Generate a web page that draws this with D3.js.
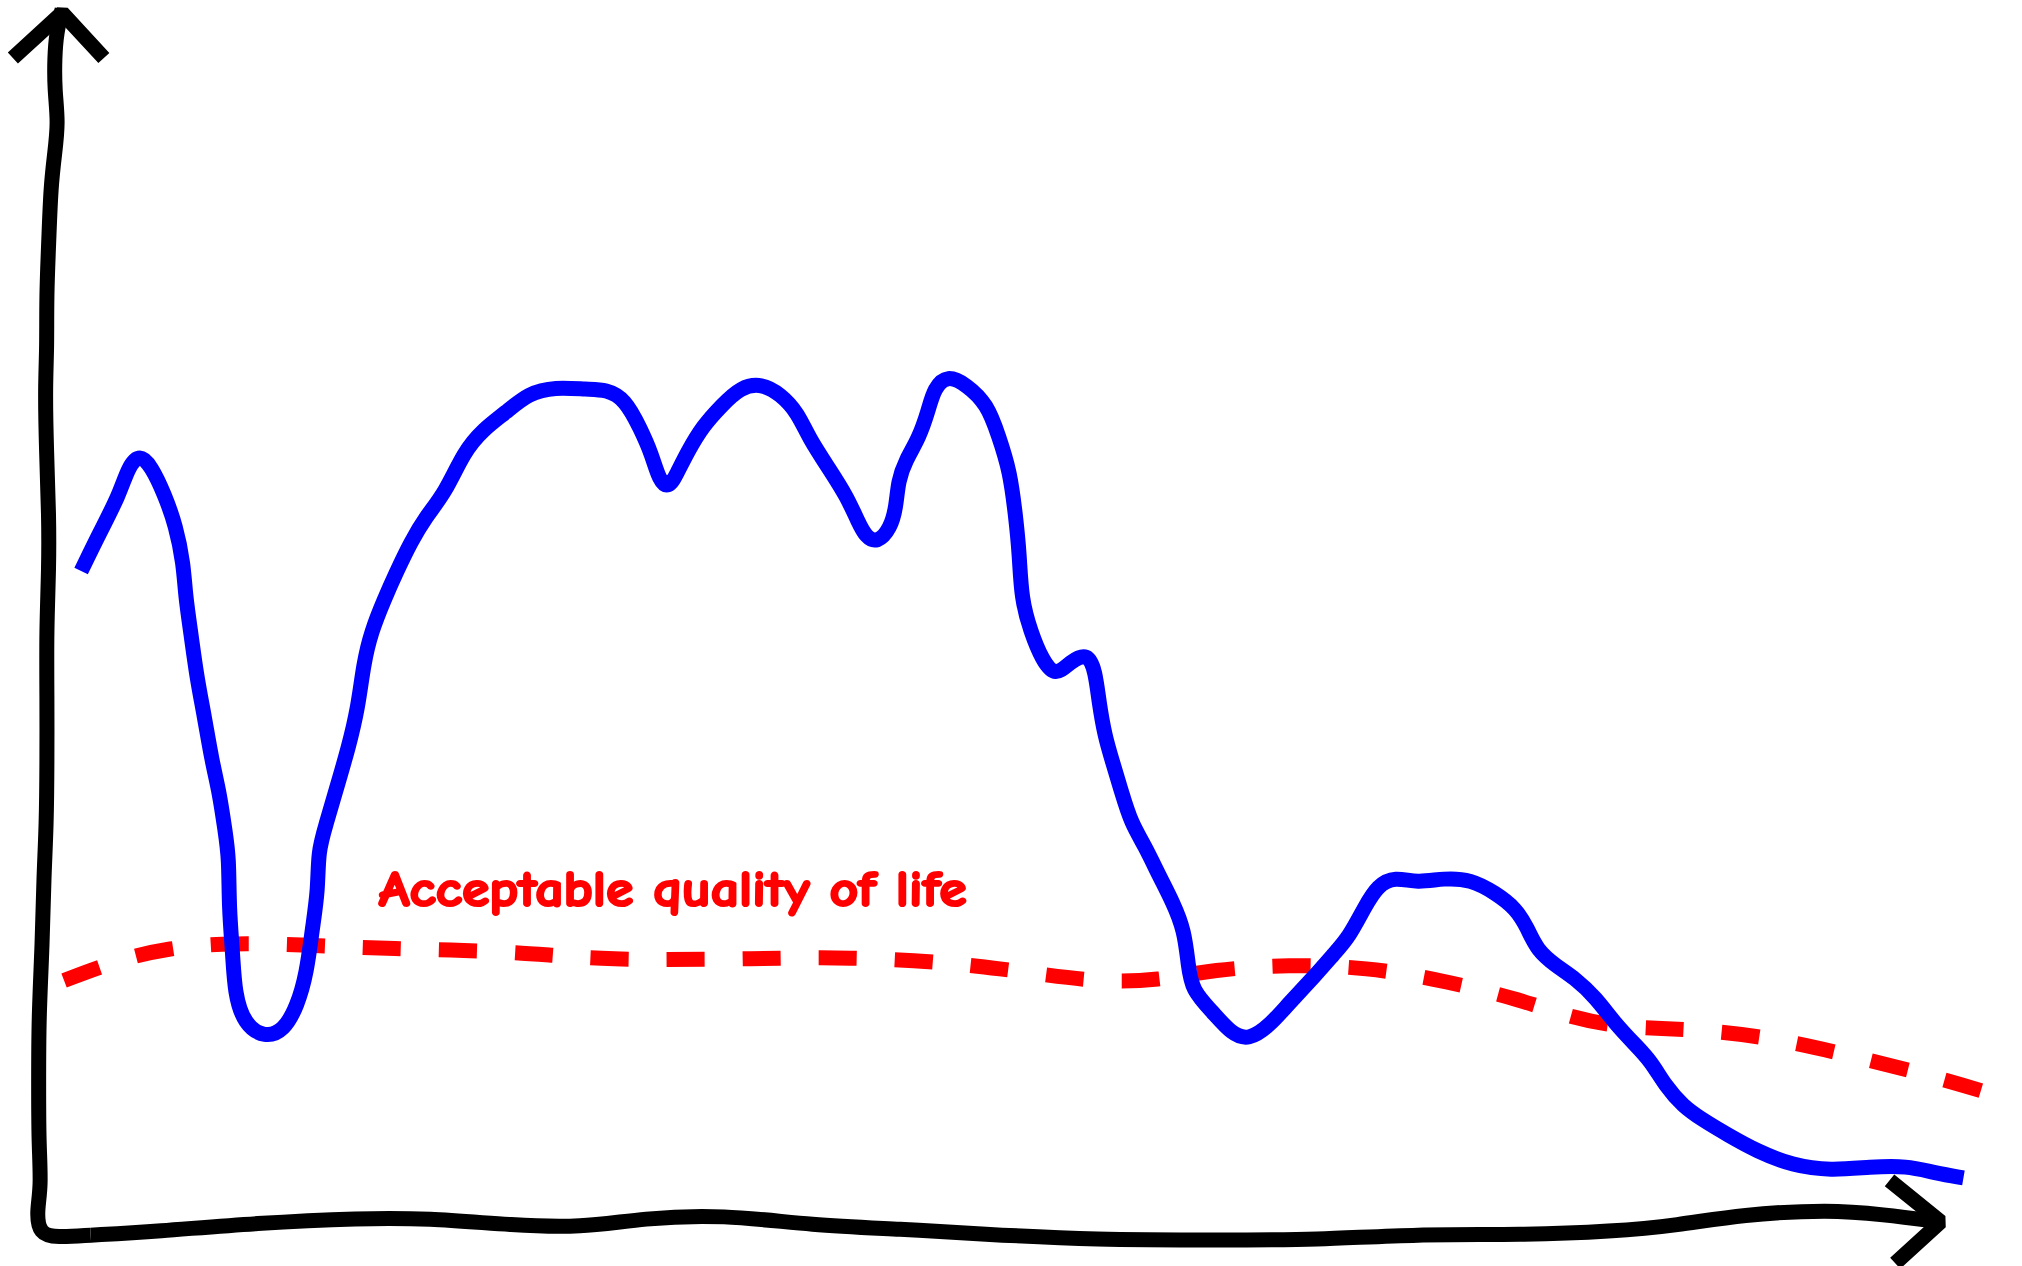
<!DOCTYPE html>
<html>
<head>
<meta charset="utf-8">
<script src="https://cdn.jsdelivr.net/npm/d3@7"></script>
<style>
  html, body { margin: 0; padding: 0; background: #fff; }
  svg { display: block; }
</style>
</head>
<body>
<svg id="chart" width="2022" height="1266"></svg>
<script>
// ---- data (abstract units: x = time 0..100, y = quality 0..100) ----
const lifeX = [1.9,2.9,3.9,4.4,5.0,5.6,6.3,6.9,7.3,7.4,7.7,8.0,8.4,8.8,9.2,9.5,9.7,9.7,9.9,10.0,
  10.5,11.6,12.6,13.3,13.8,14.1,14.4,14.4,14.8,15.4,16.0,16.5,16.8,17.2,17.9,18.5,19.3,20.1,21.1,22.1,
  23.1,24.3,25.5,26.9,28.6,29.6,30.6,31.4,32.0,32.4,32.9,33.3,33.9,34.7,35.7,36.7,37.8,38.8,39.7,40.3,
  41.4,42.3,42.9,43.3,43.9,44.6,44.9,45.0,45.4,46.1,46.6,46.9,47.6,48.6,49.7,50.3,50.9,51.2,51.4,51.5,
  52.0,52.6,53.3,54.1,55.0,55.4,55.6,55.9,56.3,56.8,57.3,58.0,58.8,59.5,60.1,60.3,60.5,61.6,62.6,63.5,
  64.6,65.6,67.0,68.0,68.8,69.6,70.3,71.2,72.4,73.8,75.2,76.5,77.6,78.2,78.7,79.7,80.7,81.8,82.8,83.9,
  84.7,85.5,86.4,87.4,88.8,90.3,92.2,94.2,96.3,98.2,99.7,101.2];
const lifeY = [54.2,57.4,60.4,62.8,63.8,62.8,60.5,57.9,54.8,52.2,49.0,45.5,42.3,38.6,36.0,32.8,30.7,26.5,22.8,19.6,
  17.0,15.9,16.5,18.5,21.2,24.9,28.0,31.2,33.3,36.5,39.7,42.9,46.6,49.2,51.9,54.0,56.6,58.7,60.6,64.0,
  65.8,67.2,68.8,69.3,69.1,69.1,68.3,65.9,63.8,61.6,61.0,62.1,64.0,66.1,67.8,69.3,69.6,68.7,67.2,65.1,
  62.5,60.3,58.2,57.0,56.5,57.7,59.5,61.6,63.3,65.1,67.4,69.2,70.3,69.5,67.9,65.3,62.4,58.7,55.6,51.9,
  49.2,46.9,45.5,46.8,47.5,46.0,43.4,40.7,38.6,36.0,33.5,31.7,29.1,27.0,24.7,21.9,19.8,18.0,16.2,15.7,
  16.9,18.7,21.0,22.8,24.2,26.6,28.4,29.1,28.6,29.0,28.9,27.8,26.5,24.9,23.1,21.8,20.8,19.2,17.1,15.3,
  14.0,11.9,10.3,9.2,7.9,6.6,5.4,5.0,5.3,5.4,4.8,4.4];

const acceptX = [1.0,3.7,6.5,9.9,13.9,18.0,24.8,28.9,35.7,42.5,49.3,55.4,58.8,61.6,65.6,69.7,73.8,77.9,80.6,83.3,87.4,91.5,95.6,99.7,103.1];
const acceptY = [20.6,22.2,23.3,23.7,23.5,23.2,23.0,22.3,22.3,22.6,21.9,20.4,20.6,21.5,21.9,21.7,20.6,19.0,17.5,16.7,16.6,15.8,14.3,12.7,11.1];

// hand-drawn axes
const yAxisX = [0.9,0.6,0.5,0.5,0.7,0.5,0.3,0.2,0.07,0.1,0,0.07,0.2,0.2,0.07,0.1,0.1,0.07,-0.07,-0.14,-0.34,-0.34,-0.34,-0.2,-0.45,-0.3,0.6,2.4];
const yAxisY = [100.3,98.4,96.3,93.7,91.0,88.4,85.7,81.5,76.7,72.5,69.3,64.0,58.7,54.5,49.2,43.9,38.6,33.3,29.1,23.8,17.4,12.2,7.4,3.7,1.6,-0.2,-0.5,-0.3];
const xAxisX = [2.4,5.8,11.2,16.7,20.1,24.8,28.2,31.6,35.7,40.5,45.2,49.3,55.4,62.2,67.0,72.4,77.9,82.7,86.1,89.5,94.2,96.9,100];
const xAxisY = [-0.3,0,0.7,1.1,1.1,0.5,0.3,1.1,1.4,0.5,0.2,-0.2,-0.7,-0.7,-0.7,-0.2,-0.3,0,0.5,1.4,1.8,1.4,0.8];
const yArrowX = [-1.7, 0.9, 3.1];
const yArrowY = [96.3, 100, 96.3];
const xArrowX = [97.3, 100, 97.6];
const xArrowY = [4.2, 0.8, -2.6];

const labelText = "Acceptable quality of life";
const labelX = 17.6, labelY = 26.7;

// ---- drawing ----
const svg = d3.select("#chart");
const x = d3.scaleLinear().domain([0, 100]).range([45.1, 1940.7]);
const y = d3.scaleLinear().domain([0, 100]).range([1231.5, 12.9]);

const zip = (xs, ys) => xs.map((v, i) => [v, ys[i]]);
const smooth = d3.line().x(d => x(d[0])).y(d => y(d[1])).curve(d3.curveBasis);
const straight = d3.line().x(d => x(d[0])).y(d => y(d[1]));
const LW = 15;

// axes
svg.append("path").attr("d", smooth(zip(yAxisX, yAxisY)))
  .attr("fill", "none").attr("stroke", "#000").attr("stroke-width", LW)
  .attr("stroke-linejoin", "round").attr("stroke-linecap", "butt");
svg.append("path").attr("d", smooth(zip(xAxisX, xAxisY)))
  .attr("fill", "none").attr("stroke", "#000").attr("stroke-width", LW)
  .attr("stroke-linejoin", "round").attr("stroke-linecap", "butt");
svg.append("path").attr("d", straight(zip(yArrowX, yArrowY)))
  .attr("fill", "none").attr("stroke", "#000").attr("stroke-width", LW)
  .attr("stroke-linejoin", "bevel").attr("stroke-linecap", "butt");
svg.append("path").attr("d", straight(zip(xArrowX, xArrowY)))
  .attr("fill", "none").attr("stroke", "#000").attr("stroke-width", LW)
  .attr("stroke-linejoin", "bevel").attr("stroke-linecap", "butt");

// acceptable quality line
svg.append("path").attr("d", smooth(zip(acceptX, acceptY)))
  .attr("fill", "none").attr("stroke", "#ff0000").attr("stroke-width", LW)
  .attr("stroke-dasharray", "38,38").attr("stroke-linecap", "butt");

// quality of life line
svg.append("path").attr("d", smooth(zip(lifeX, lifeY)))
  .attr("fill", "none").attr("stroke", "#0000ff").attr("stroke-width", LW)
  .attr("stroke-linejoin", "round").attr("stroke-linecap", "butt");

// label
svg.append("text")
  .attr("x", x(labelX)).attr("y", y(labelY))
  .attr("fill", "#ff0000")
  .attr("stroke", "#ff0000")
  .attr("stroke-width", 2.2)
  .attr("stroke-linejoin", "round")
  .attr("font-family", "'Comic Sans MS', 'Comic Neue', Lato, sans-serif")
  .attr("font-weight", "bold")
  .attr("font-size", 50)
  .attr("textLength", 588)
  .attr("lengthAdjust", "spacingAndGlyphs")
  .text(labelText);
</script>
</body>
</html>
